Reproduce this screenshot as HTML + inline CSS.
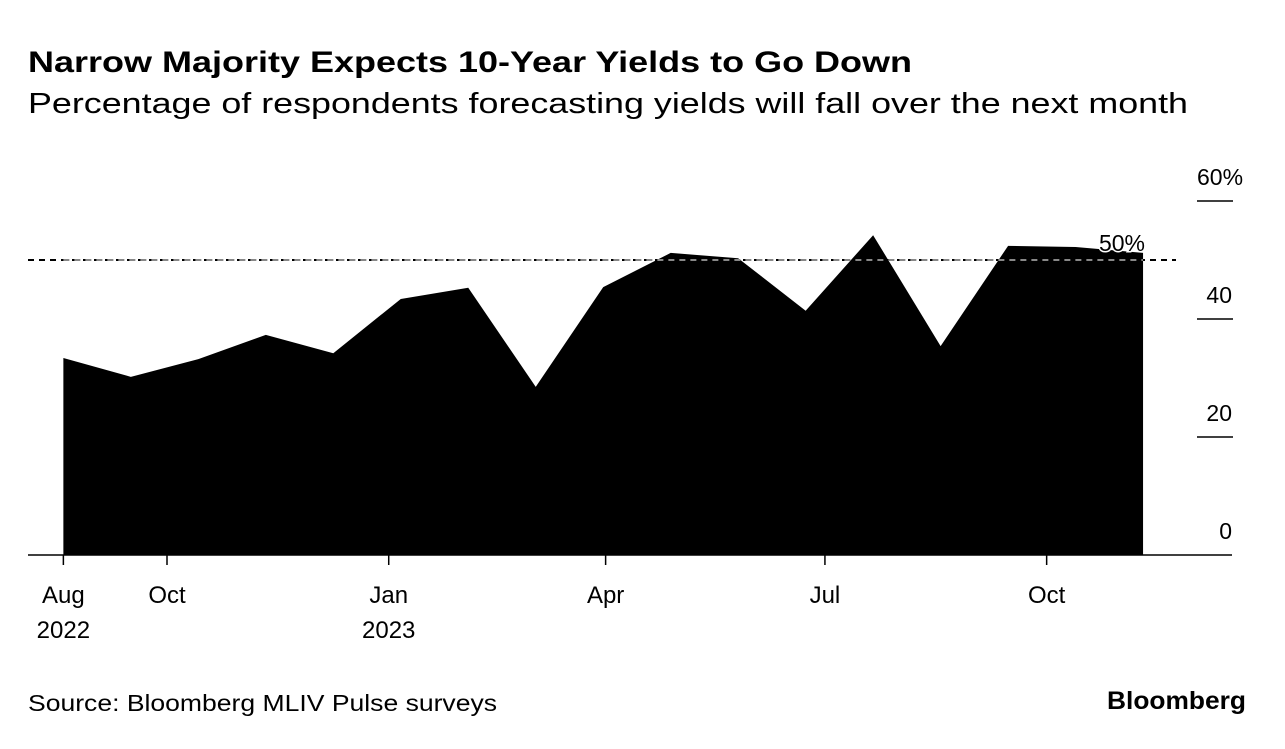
<!DOCTYPE html>
<html><head><meta charset="utf-8"><style>
body{margin:0;background:#fff;width:1285px;height:744px;overflow:hidden;font-family:"Liberation Sans",sans-serif}
</style></head><body>
<svg width="1285" height="744" font-family="Liberation Sans, sans-serif">
<text x="28" y="72" font-size="30" font-weight="bold" textLength="884" lengthAdjust="spacingAndGlyphs">Narrow Majority Expects 10-Year Yields to Go Down</text>
<text x="28" y="113" font-size="29" textLength="1160" lengthAdjust="spacingAndGlyphs">Percentage of respondents forecasting yields will fall over the next month</text>
<g id="plot"></g>
<text x="28" y="711" font-size="23" textLength="469" lengthAdjust="spacingAndGlyphs">Source: Bloomberg MLIV Pulse surveys</text>
<text x="1107" y="709" font-size="25" font-weight="bold" textLength="139" lengthAdjust="spacingAndGlyphs">Bloomberg</text>
</svg>
<script>
const dates=["2022-08-19","2022-09-16","2022-10-14","2022-11-11","2022-12-09","2023-01-06","2023-02-03","2023-03-03","2023-03-31","2023-04-28","2023-05-26","2023-06-23","2023-07-21","2023-08-18","2023-09-15","2023-10-13","2023-11-10"];
const values=[33.4,30.2,33.2,37.3,34.2,43.4,45.3,28.5,45.4,51.2,50.3,41.4,54.2,35.4,52.4,52.2,51.2];
const yTicks=[0,20,40,60];
const yTickLabels=["0","20","40","60%"];
const xTickDates=["2022-08-19","2022-10-01","2023-01-01","2023-04-01","2023-07-01","2023-10-01"];
const xTickLabels=[["Aug","2022"],["Oct"],["Jan","2023"],["Apr"],["Jul"],["Oct"]];
const refValue=50;
const NS="http://www.w3.org/2000/svg";
const g=document.getElementById('plot');
const t0=Date.parse("2022-10-01");
function x(d){return 167+(Date.parse(d)-t0)/86400000*2.41;}
function y(v){return 555-v*5.9;}
function mk(tag,attrs){const e=document.createElementNS(NS,tag);for(const k in attrs)e.setAttribute(k,attrs[k]);g.appendChild(e);return e;}
let d="M"+x(dates[0])+","+y(0);
dates.forEach((dt,i)=>{d+=" L"+x(dt)+","+y(values[i]);});
d+=" L"+x(dates[dates.length-1])+","+y(0)+" Z";
const area=mk('path',{d:d,fill:'#000'});


const ref=mk('line',{x1:28,x2:1176,y1:y(refValue),y2:y(refValue),stroke:'#000','stroke-width':2,'stroke-dasharray':'6,5'});


const ref2=mk('line',{x1:x(dates[0]),x2:x(dates[dates.length-1]),y1:y(refValue),y2:y(refValue),stroke:'#888','stroke-width':2,'stroke-dasharray':'6,5'});


const rl=mk('text',{x:1145,y:y(refValue)-9,'font-size':23,'text-anchor':'end',stroke:'#fff','stroke-width':3,'paint-order':'stroke'});
rl.textContent=refValue+"%";


const ax=mk('line',{x1:28,x2:1232,y1:555,y2:555,stroke:'#000','stroke-width':1.5});


yTicks.forEach((v,i)=>{
 if(v>0){const l=mk('line',{x1:1197,x2:1233,y1:y(v),y2:y(v),stroke:'#000','stroke-width':1.5});
 
 }
 const lab=yTickLabels[i];
 const t=mk('text',{x:lab.includes('%')?1197:1232,y:y(v)-16,'font-size':23,'text-anchor':lab.includes('%')?'start':'end'});
 t.textContent=lab;
 
 
});
xTickDates.forEach((dt,i)=>{
 const xx=x(dt);
 const l=mk('line',{x1:xx,x2:xx,y1:555,y2:565,stroke:'#000','stroke-width':1.5});
 
 
 xTickLabels[i].forEach((s,j)=>{
  const t=mk('text',{x:xx,y:603+j*35,'font-size':24,'text-anchor':'middle'});
  t.textContent=s;
  
  
 });
});
</script>
</body></html>
